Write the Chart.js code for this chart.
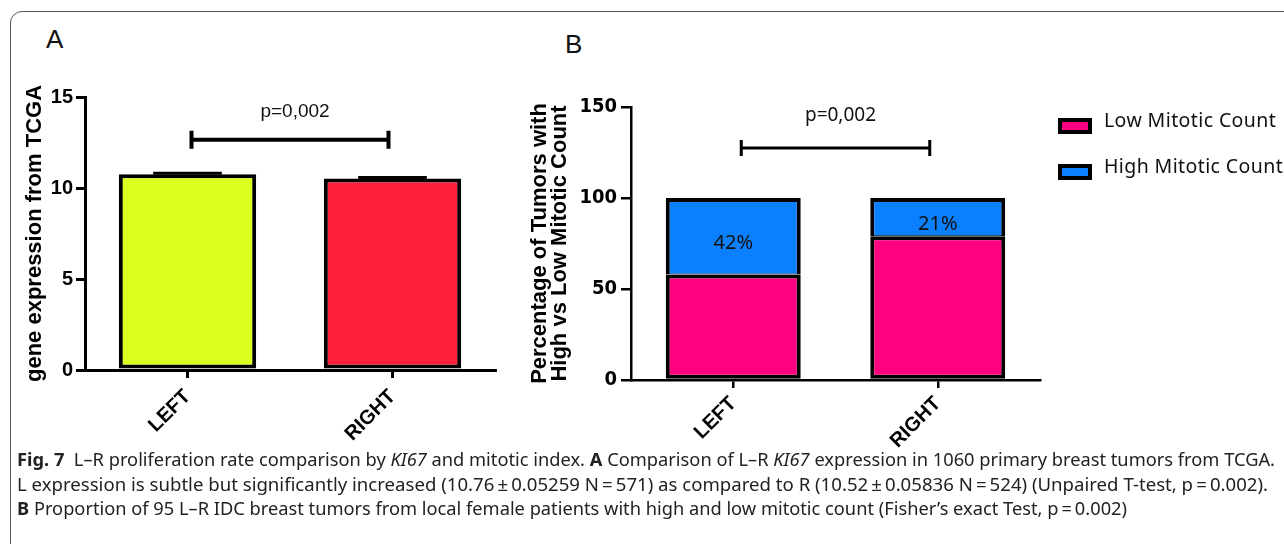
<!DOCTYPE html>
<html>
<head>
<meta charset="utf-8">
<script src="https://cdn.jsdelivr.net/npm/chart.js@4.4.0/dist/chart.umd.min.js"></script>
<style>
  html, body { margin: 0; padding: 0; background: #fff; }
  body { width: 1284px; height: 544px; position: relative; overflow: hidden; }
  #frame { position: absolute; left: 10px; top: 11px; width: 1300px; height: 560px;
           border: 1px solid #555; border-radius: 12px; box-sizing: border-box; }
  .letter { position: absolute; font-family: "Liberation Sans", Arial, sans-serif;
            font-size: 26px; line-height: 26px; color: #111; }
  #wrapA { position: absolute; left: 0; top: 0; }
  #wrapB { position: absolute; left: 510px; top: 0; }
  .leg-row { position: absolute; left: 1058px; height: 24px; width: 230px;
             font-family: "Noto Sans", sans-serif; font-size: 19.5px; line-height: 19px; letter-spacing: 0.4px;
             color: #111; white-space: nowrap; }
  .leg-box { position: absolute; left: 0; top: 8px; width: 34px; height: 16px;
             border: 4px solid #000; box-sizing: border-box; }
  .leg-text { position: absolute; left: 46px; top: 0; }
  #caption { position: absolute; left: 17px; top: 447px; font-family: "Noto Sans", sans-serif;
             font-size: 18px; line-height: 24.5px; color: #222; }
  #caption div { white-space: nowrap; width: max-content; transform-origin: 0 0; }
</style>
</head>
<body>
<div id="frame"></div>
<div class="letter" style="left:46px; top:26px;">A</div>
<div class="letter" style="left:565px; top:31px;">B</div>
<div id="wrapA"><canvas id="chartA" width="510" height="470"></canvas></div>
<div id="wrapB"><canvas id="chartB" width="774" height="470"></canvas></div>
<div id="legend"></div>
<div id="caption">
  <div><b>Fig. 7</b>&nbsp; L–R proliferation rate comparison by <i>KI67</i> and mitotic index. <b>A</b> Comparison of L–R <i>KI67</i> expression in 1060 primary breast tumors from TCGA.</div>
  <div>L expression is subtle but significantly increased (10.76&#8201;±&#8201;0.05259 N&#8201;=&#8201;571) as compared to R (10.52&#8201;±&#8201;0.05836 N&#8201;=&#8201;524) (Unpaired T-test, p&#8201;=&#8201;0.002).</div>
  <div><b>B</b> Proportion of 95 L–R IDC breast tumors from local female patients with high and low mitotic count (Fisher’s exact Test, p&#8201;=&#8201;0.002)</div>
</div>
<script>
// panel A: KI67 expression
const sides = ['LEFT', 'RIGHT'];
const expressionMean = [10.76, 10.52];
const expressionSem = [0.05259, 0.05836];
const expressionColors = ['#DBFF1F', '#FF1F3A'];
const expressionTicks = [0, 5, 10, 15];

// panel B: mitotic count (% of tumors)
const mitoticSeries = ['Low Mitotic Count', 'High Mitotic Count'];
const lowMitotic = [58, 79];
const highMitotic = [42, 21];
const mitoticColors = ['#FF0080', '#0A80FF'];
const percentTicks = [0, 50, 100, 150];

const pValueText = 'p=0,002';

const arial = '"Liberation Sans", Arial, sans-serif';
const narrow = '"Liberation Sans Narrow", "DejaVu Sans Condensed", sans-serif';
const noto = '"Noto Sans", sans-serif';

// significance bracket between the two categories
const bracketPlugin = {
  id: 'bracket',
  afterDatasetsDraw(chart, args, o) {
    const { ctx, scales: { x, y } } = chart;
    const x1 = x.getPixelForValue(0) + o.inset;
    const x2 = x.getPixelForValue(1) - o.inset;
    const yy = y.getPixelForValue(o.level);
    const c = o.cap;
    ctx.save();
    ctx.strokeStyle = '#000';
    ctx.lineWidth = o.width;
    ctx.beginPath();
    ctx.moveTo(x1, yy); ctx.lineTo(x2, yy);
    ctx.moveTo(x1, yy - c); ctx.lineTo(x1, yy + c);
    ctx.moveTo(x2, yy - c); ctx.lineTo(x2, yy + c);
    ctx.stroke();
    ctx.fillStyle = '#111';
    ctx.font = o.font;
    ctx.textAlign = 'center';
    ctx.textBaseline = 'middle';
    ctx.fillText(o.text, (x1 + x2) / 2 + o.dx, y.getPixelForValue(o.textLevel));
    ctx.restore();
  }
};

// SEM caps on top of the bars
const errorBarPlugin = {
  id: 'errbars',
  afterDatasetsDraw(chart, args, o) {
    if (!o.sem) return;
    const { ctx, scales: { y } } = chart;
    const meta = chart.getDatasetMeta(0);
    ctx.save();
    ctx.strokeStyle = '#000';
    ctx.lineWidth = 3;
    meta.data.forEach((bar, i) => {
      const v = chart.data.datasets[0].data[i];
      const top = y.getPixelForValue(v + o.sem[i]);
      const half = bar.width / 4;
      ctx.beginPath();
      ctx.moveTo(bar.x, bar.y); ctx.lineTo(bar.x, top);
      ctx.moveTo(bar.x - half, top); ctx.lineTo(bar.x + half, top);
      ctx.stroke();
    });
    ctx.restore();
  }
};

// percentage inside the high-count segments
const segmentLabelPlugin = {
  id: 'seglabels',
  afterDatasetsDraw(chart, args, o) {
    if (o.dataset === undefined) return;
    const { ctx } = chart;
    const meta = chart.getDatasetMeta(o.dataset);
    ctx.save();
    ctx.fillStyle = '#111';
    ctx.font = o.font;
    ctx.textAlign = 'center';
    ctx.textBaseline = 'middle';
    meta.data.forEach((bar, i) => {
      const v = chart.data.datasets[o.dataset].data[i];
      ctx.fillText(v + '%', bar.x, (bar.y + bar.base) / 2 + o.dy);
    });
    ctx.restore();
  }
};

Chart.register(bracketPlugin, errorBarPlugin, segmentLabelPlugin);

const axisX = (fontFamily, height, pad, lw) => ({
  grid: { drawOnChartArea: false, offset: false, tickLength: 8, lineWidth: lw, color: '#000' },
  border: { width: lw, color: '#000' },
  ticks: { color: '#000', autoSkip: false, minRotation: 45, maxRotation: 45, padding: pad,
           font: { family: fontFamily, size: 20, weight: 'bold' } },
  afterFit: s => { s.height = height; }
});

new Chart(document.getElementById('chartA'), {
  type: 'bar',
  data: {
    labels: sides,
    datasets: [{
      label: 'KI67',
      data: expressionMean,
      backgroundColor: expressionColors,
      borderColor: '#000',
      borderWidth: 4,
      borderSkipped: false,
      categoryPercentage: 1,
      barPercentage: 0.67
    }]
  },
  options: {
    responsive: false,
    animation: false,
    layout: { padding: { top: 97, right: 15, left: 0, bottom: 0 } },
    plugins: {
      legend: { display: false },
      tooltip: { enabled: false },
      bracket: { level: 12.65, cap: 9, inset: 4, width: 4, text: pValueText, textLevel: 14.2, dx: 5,
                 font: '19px ' + arial },
      errbars: { sem: expressionSem },
      seglabels: {}
    },
    scales: {
      x: axisX(arial, 100, 7, 3),
      y: {
        min: expressionTicks[0],
        max: expressionTicks[expressionTicks.length - 1],
        afterBuildTicks: s => { s.ticks = expressionTicks.map(v => ({ value: v })); },
        grid: { drawOnChartArea: false, tickLength: 9, lineWidth: 3, color: '#000' },
        border: { width: 3, color: '#000' },
        ticks: { color: '#000', padding: 3, font: { family: arial, size: 20, weight: 'bold' } },
        title: { display: true, text: 'gene expression from TCGA', color: '#000',
                 font: { family: arial, size: 22, weight: 'bold' }, padding: { top: 22, bottom: 0 } },
        afterFit: s => { s.width = 85; }
      }
    }
  }
});

new Chart(document.getElementById('chartB'), {
  type: 'bar',
  data: {
    labels: sides,
    datasets: [lowMitotic, highMitotic].map((d, i) => ({
      label: mitoticSeries[i],
      data: d,
      backgroundColor: mitoticColors[i],
      borderColor: '#000',
      borderWidth: i === 0 ? 4 : { top: 4, left: 4, right: 4, bottom: 1 },
      borderSkipped: false,
      categoryPercentage: 1,
      barPercentage: 0.66
    }))
  },
  options: {
    responsive: false,
    animation: false,
    layout: { padding: { top: 107, right: 244, left: 0, bottom: 0 } },
    plugins: {
      legend: { display: false },
      tooltip: { enabled: false },
      bracket: { level: 127.5, cap: 8, inset: 8, width: 3, text: pValueText, textLevel: 145.5, dx: 5,
                 font: '19px ' + noto },
      errbars: {},
      seglabels: { dataset: 1, dy: 7, font: '20px ' + noto }
    },
    scales: {
      x: Object.assign(axisX(arial, 90, 4, 2.5), { stacked: true }),
      y: {
        stacked: true,
        min: percentTicks[0],
        max: percentTicks[percentTicks.length - 1],
        afterBuildTicks: s => { s.ticks = percentTicks.map(v => ({ value: v })); },
        grid: { drawOnChartArea: false, tickLength: 10, lineWidth: 2.5, color: '#000' },
        border: { width: 2.5, color: '#000' },
        ticks: { color: '#000', padding: 4, font: { family: narrow, size: 20, weight: 'bold' } },
        title: { display: true, text: ['Percentage of Tumors with', 'High vs Low Mitotic Count'], color: '#000',
                 font: { family: arial, size: 22, weight: 'bold', lineHeight: 0.95 }, padding: { top: 19, bottom: 0 } },
        afterFit: s => { s.width = 121; }
      }
    }
  }
});

// legend for panel B
const legend = document.getElementById('legend');
mitoticSeries.forEach((name, i) => {
  const row = document.createElement('div');
  row.className = 'leg-row';
  row.style.top = (110 + i * 46) + 'px';
  row.innerHTML = '<div class="leg-box" style="background:' + mitoticColors[i] + '"></div>' +
                  '<div class="leg-text">' + name + '</div>';
  legend.appendChild(row);
});

// squeeze the caption lines to the widths of the printed figure
const captionWidths = [1258, 1251, 1110];
document.querySelectorAll('#caption div').forEach((line, i) => {
  const w = line.getBoundingClientRect().width;
  line.style.transform = 'scaleX(' + (captionWidths[i] / w) + ')';
});
</script>
</body>
</html>
